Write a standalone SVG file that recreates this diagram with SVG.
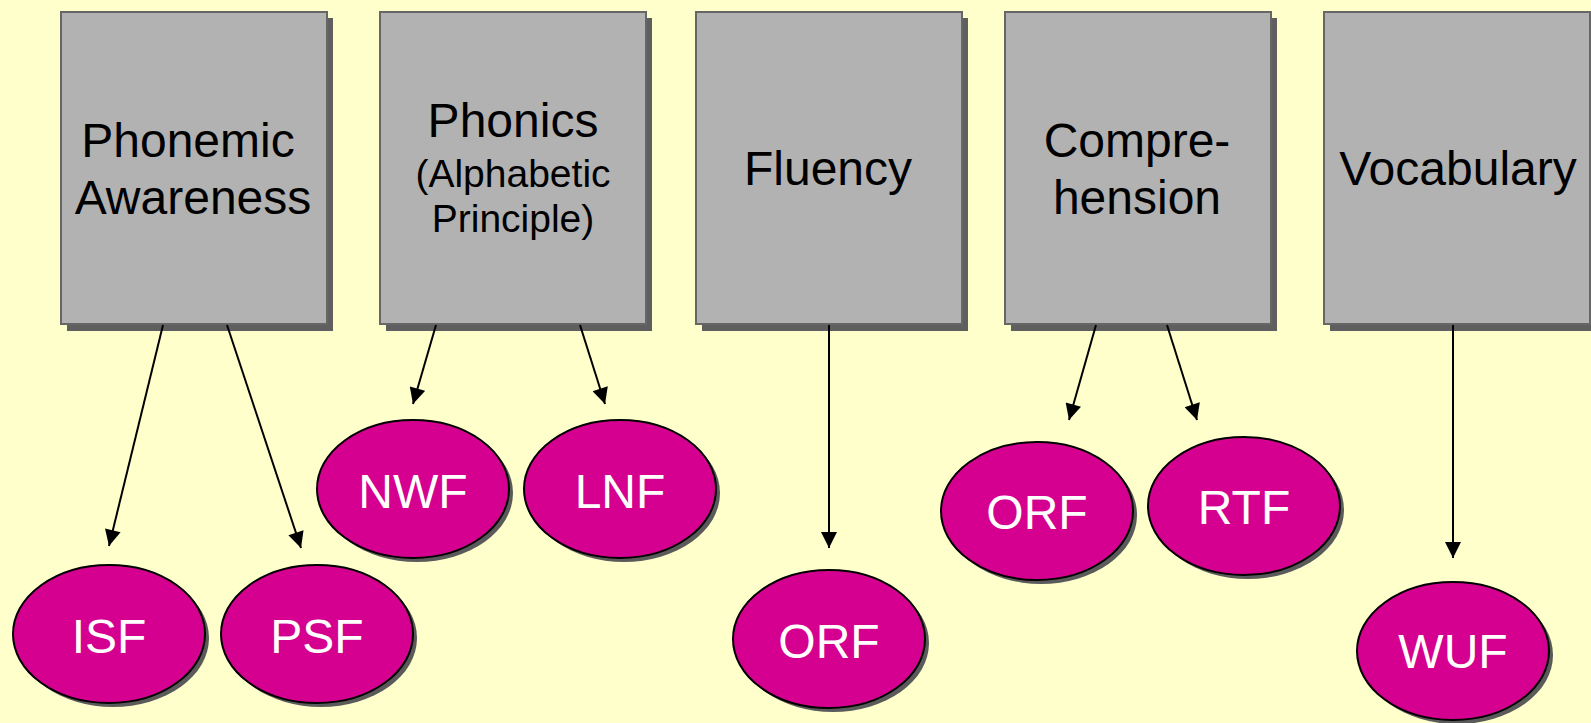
<svg xmlns="http://www.w3.org/2000/svg" width="1591" height="723" viewBox="0 0 1591 723">
  <style>
    .box { fill: #b2b2b2; stroke: #666666; stroke-width: 2; }
    .boxShadow { fill: #5f5f5f; }
    .oval { fill: #d5008f; stroke: #000000; stroke-width: 2; }
    .ovalShadow { fill: #5a5a5a; }
    .label { font-family: "Liberation Sans", Arial, sans-serif; font-size: 48px; fill: #000000; text-anchor: middle; }
    .small { font-size: 39px; }
    .measure { font-family: "Liberation Sans", Arial, sans-serif; font-size: 48px; fill: #ffffff; text-anchor: middle; }
    .link { stroke: #000000; stroke-width: 2; fill: none; marker-end: url(#arrow); }
  </style>
  <defs>
    <marker id="arrow" viewBox="0 0 10 10" refX="10" refY="5" markerWidth="9" markerHeight="8" markerUnits="strokeWidth" orient="auto">
      <path d="M0,0 L10,5 L0,10 Z" fill="#000000"/>
    </marker>
  </defs>

  <rect x="0" y="0" width="1591" height="723" fill="#ffffcc"/>

  <!-- skill boxes -->
  <g id="phonemic-awareness">
    <rect class="boxShadow" x="67" y="18" width="266" height="313"/>
    <rect class="box" x="61" y="12" width="266" height="312"/>
    <text class="label" x="188" y="157">Phonemic</text>
    <text class="label" x="193" y="214">Awareness</text>
  </g>
  <g id="phonics">
    <rect class="boxShadow" x="386" y="18" width="266" height="313"/>
    <rect class="box" x="380" y="12" width="266" height="312"/>
    <text class="label" x="513" y="137">Phonics</text>
    <text class="label small" x="513" y="187">(Alphabetic</text>
    <text class="label small" x="513" y="232">Principle)</text>
  </g>
  <g id="fluency">
    <rect class="boxShadow" x="702" y="18" width="266" height="313"/>
    <rect class="box" x="696" y="12" width="266" height="312"/>
    <text class="label" x="828" y="185">Fluency</text>
  </g>
  <g id="comprehension">
    <rect class="boxShadow" x="1011" y="18" width="266" height="313"/>
    <rect class="box" x="1005" y="12" width="266" height="312"/>
    <text class="label" x="1137" y="157">Compre-</text>
    <text class="label" x="1137" y="214">hension</text>
  </g>
  <g id="vocabulary">
    <rect class="boxShadow" x="1330" y="18" width="266" height="313"/>
    <rect class="box" x="1324" y="12" width="266" height="312"/>
    <text class="label" x="1458" y="185">Vocabulary</text>
  </g>

  <!-- connectors -->
  <g id="connectors">
    <line class="link" x1="163" y1="325" x2="109" y2="546"/>
    <line class="link" x1="227" y1="325" x2="301" y2="548"/>
    <line class="link" x1="436" y1="325" x2="413" y2="404"/>
    <line class="link" x1="580" y1="325" x2="605" y2="404"/>
    <line class="link" x1="829" y1="325" x2="829" y2="548"/>
    <line class="link" x1="1096" y1="325" x2="1069" y2="420"/>
    <line class="link" x1="1167" y1="325" x2="1197" y2="420"/>
    <line class="link" x1="1453" y1="325" x2="1453" y2="558"/>
  </g>

  <!-- measures -->
  <g id="isf">
    <ellipse class="ovalShadow" cx="113" cy="638" rx="96" ry="69"/>
    <ellipse class="oval" cx="109" cy="634" rx="96" ry="69"/>
    <text class="measure" x="109" y="653">ISF</text>
  </g>
  <g id="psf">
    <ellipse class="ovalShadow" cx="321" cy="638" rx="96" ry="69"/>
    <ellipse class="oval" cx="317" cy="634" rx="96" ry="69"/>
    <text class="measure" x="317" y="653">PSF</text>
  </g>
  <g id="nwf">
    <ellipse class="ovalShadow" cx="417" cy="493" rx="96" ry="69"/>
    <ellipse class="oval" cx="413" cy="489" rx="96" ry="69"/>
    <text class="measure" x="413" y="508">NWF</text>
  </g>
  <g id="lnf">
    <ellipse class="ovalShadow" cx="624" cy="493" rx="96" ry="69"/>
    <ellipse class="oval" cx="620" cy="489" rx="96" ry="69"/>
    <text class="measure" x="620" y="508">LNF</text>
  </g>
  <g id="orf-fluency">
    <ellipse class="ovalShadow" cx="833" cy="643" rx="96" ry="69"/>
    <ellipse class="oval" cx="829" cy="639" rx="96" ry="69"/>
    <text class="measure" x="829" y="658">ORF</text>
  </g>
  <g id="orf-comprehension">
    <ellipse class="ovalShadow" cx="1041" cy="515" rx="96" ry="69"/>
    <ellipse class="oval" cx="1037" cy="511" rx="96" ry="69"/>
    <text class="measure" x="1037" y="529">ORF</text>
  </g>
  <g id="rtf">
    <ellipse class="ovalShadow" cx="1248" cy="510" rx="96" ry="69"/>
    <ellipse class="oval" cx="1244" cy="506" rx="96" ry="69"/>
    <text class="measure" x="1244" y="524">RTF</text>
  </g>
  <g id="wuf">
    <ellipse class="ovalShadow" cx="1457" cy="655" rx="96" ry="69"/>
    <ellipse class="oval" cx="1453" cy="651" rx="96" ry="69"/>
    <text class="measure" x="1453" y="668">WUF</text>
  </g>
</svg>
